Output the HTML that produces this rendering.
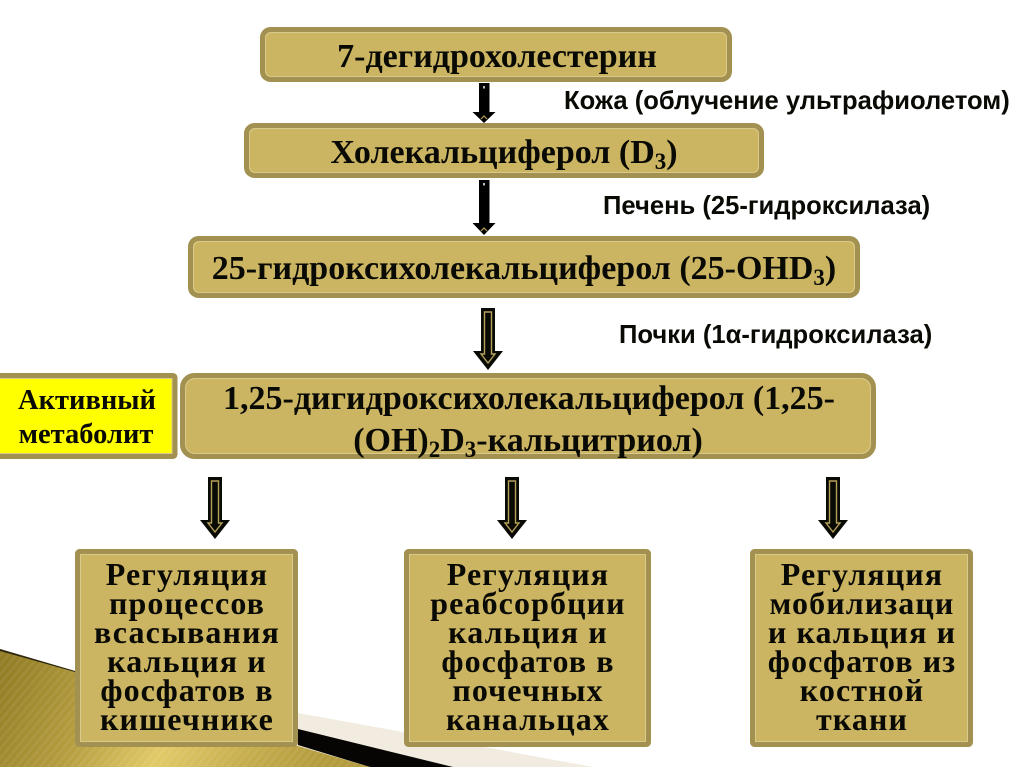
<!DOCTYPE html>
<html><head><meta charset="utf-8"><style>
html,body{margin:0;padding:0;background:#fff}
svg{display:block}
text{font-family:"Liberation Serif",serif;font-weight:bold;fill:#0a0a05;text-anchor:middle}
.s{font-family:"Liberation Sans",sans-serif;font-size:25.600px;text-anchor:start}
.m{font-size:34px}
.r{font-size:32px;letter-spacing:1.100px}
.y{font-size:28.500px}
tspan.b{font-size:23px}
</style></head><body>
<svg width="1024" height="767" viewBox="0 0 1024 767" xmlns="http://www.w3.org/2000/svg">
<defs>
<linearGradient id="g" x1="0" y1="0" x2="1" y2="0.15">
<stop offset="0" stop-color="#8f7a22"/><stop offset=".3" stop-color="#b49c3e"/><stop offset=".55" stop-color="#e2c968"/><stop offset=".8" stop-color="#c4ab4c"/><stop offset="1" stop-color="#b39a3c"/>
</linearGradient>
<pattern id="st" width="6" height="6" patternUnits="userSpaceOnUse" patternTransform="rotate(40)">
<rect width="3" height="6" fill="#fff" fill-opacity=".06"/>
</pattern>
<g id="a"><path d="M-7,0H7V43H15L0,62L-15,43H-7Z" fill="#0a0a05"/><path d="M-3.500,4H3.500V46H7L0,55L-7,46H-3.500Z" fill="none" stroke="#b5a15a" stroke-width="1.400"/></g>
</defs>
<rect width="1024" height="767" fill="#fff"/>
<path d="M298,713L403,732L593,767H298Z" fill="#f1ecdf"/>
<path d="M298,729L453,767H370L298,745Z" fill="#060503"/>
<path d="M0,649L75,671L298,746L370,767H0Z" fill="url(#g)"/>
<path d="M0,649L75,671L298,746L370,767H0Z" fill="url(#st)"/>
<path d="M0,649L75,671L75,672L0,651Z" fill="#2b2610"/>

<g fill="#ccb562" stroke="#a39151">
<rect x="262.500" y="29.500" width="467" height="50" rx="8" stroke-width="5"/>
<rect x="246.500" y="125.500" width="515" height="50" rx="8" stroke-width="5"/>
<rect x="190.500" y="238.500" width="667" height="57" rx="8" stroke-width="5"/>
<rect x="182.500" y="375.500" width="691" height="81" rx="12" stroke-width="5"/>
<rect x="-5" y="375.500" width="180" height="81" rx="2" fill="#ffff00" stroke-width="5"/>
<rect x="77.500" y="551.500" width="218" height="193" rx="2" stroke-width="5"/>
<rect x="406.500" y="551.500" width="242" height="193" rx="2" stroke-width="5"/>
<rect x="752.500" y="551.500" width="218" height="193" rx="2" stroke-width="5"/>
</g>
<g fill="none" stroke="#d9c98a" stroke-width="1">
<rect x="265.500" y="32.500" width="461" height="44" rx="6"/>
<rect x="249.500" y="128.500" width="509" height="44" rx="6"/>
<rect x="193.500" y="241.500" width="661" height="51" rx="6"/>
<rect x="185.500" y="378.500" width="685" height="75" rx="10"/>
<rect x="-5" y="378.500" width="177" height="75"/>
<rect x="80.500" y="554.500" width="212" height="187"/>
<rect x="409.500" y="554.500" width="236" height="187"/>
<rect x="755.500" y="554.500" width="212" height="187"/>
</g>

<path d="M479,83H489.500V112H495.500L484,123L472.500,112H479Z" fill="#000"/>
<rect x="483" y="86" width="2" height="2.500" fill="#bbb"/>
<path d="M481,119L484,116L487,119" fill="none" stroke="#b5a15a" stroke-width="1.200"/>
<path d="M479,180H489.500V223H495.500L484,235L472.500,223H479Z" fill="#000"/>
<rect x="483" y="183" width="2" height="2.500" fill="#bbb"/>
<path d="M481,231L484,228L487,231" fill="none" stroke="#b5a15a" stroke-width="1.200"/>
<use href="#a" x="488" y="308"/>
<use href="#a" x="215" y="477"/>
<use href="#a" x="512" y="477"/>
<use href="#a" x="833" y="477"/>

<text class="m" x="497" y="67">7-дегидрохолестерин</text>
<text class="m" x="504" y="163">Холекальциферол (D<tspan class="b" dy="6">3</tspan><tspan dy="-6">)</tspan></text>
<text class="m" x="524" y="279">25-гидроксихолекальциферол (25-ОНD<tspan class="b" dy="6">3</tspan><tspan dy="-6">)</tspan></text>
<text class="m" x="529" y="409">1,25-дигидроксихолекальциферол (1,25-</text>
<text class="m" x="528" y="451">(ОН)<tspan class="b" dy="6">2</tspan><tspan dy="-6">D</tspan><tspan class="b" dy="6">3</tspan><tspan dy="-6">-кальцитриол)</tspan></text>

<text class="y" x="87" y="409">Активный</text>
<text class="y" x="86" y="443">метаболит</text>

<text class="s" x="564" y="109">Кожа (облучение ультрафиолетом)</text>
<text class="s" x="603" y="214">Печень (25-гидроксилаза)</text>
<text class="s" x="619" y="343">Почки (1α-гидроксилаза)</text>

<text class="r" x="187" y="585">Регуляция</text>
<text class="r" x="187" y="614">процессов</text>
<text class="r" x="187" y="643">всасывания</text>
<text class="r" x="187" y="672">кальция и</text>
<text class="r" x="187" y="701">фосфатов в</text>
<text class="r" x="187" y="730">кишечнике</text>

<text class="r" x="528" y="585">Регуляция</text>
<text class="r" x="528" y="614">реабсорбции</text>
<text class="r" x="528" y="643">кальция и</text>
<text class="r" x="528" y="672">фосфатов в</text>
<text class="r" x="528" y="701">почечных</text>
<text class="r" x="528" y="730">канальцах</text>

<text class="r" x="862" y="585">Регуляция</text>
<text class="r" x="862" y="614">мобилизаци</text>
<text class="r" x="862" y="643">и кальция и</text>
<text class="r" x="862" y="672">фосфатов из</text>
<text class="r" x="862" y="701">костной</text>
<text class="r" x="862" y="730">ткани</text>
</svg>
</body></html>
